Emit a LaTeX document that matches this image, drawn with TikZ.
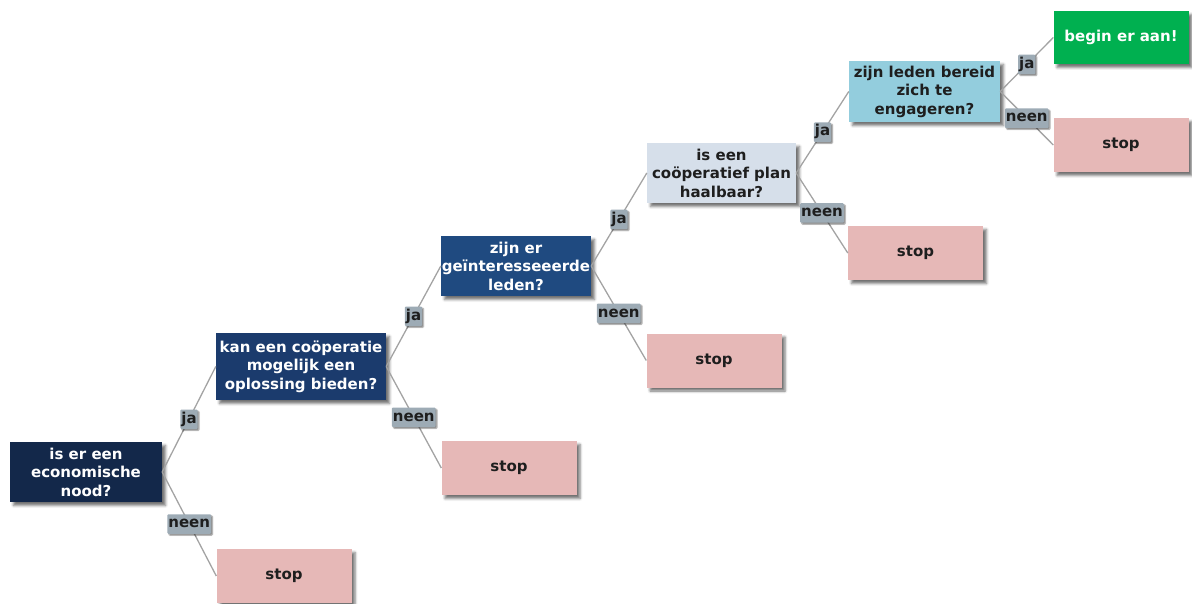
\documentclass[tikz,border=0pt]{standalone}
\usepackage{fontspec}
\setmainfont{DejaVu Sans}
\usetikzlibrary{shadows.blur}

\definecolor{qnavy}{HTML}{13284A}
\definecolor{qblue}{HTML}{1B3B6D}
\definecolor{qmid}{HTML}{1F4A80}
\definecolor{qpale}{HTML}{D6DFEA}
\definecolor{qsky}{HTML}{93CDDD}
\definecolor{gogreen}{HTML}{00B050}
\definecolor{stopc}{HTML}{E6B8B7}
\definecolor{labc}{HTML}{9DABB5}
\definecolor{linec}{HTML}{A3A3A3}
\definecolor{inkc}{HTML}{1E1E1E}

\tikzset{
  base/.style={rectangle, inner sep=0pt, align=center,
    font=\bfseries\fontsize{15}{18.5}\selectfont,
    blur shadow={shadow xshift=3.5pt, shadow yshift=-3.5pt,
      shadow blur radius=2.5pt, shadow opacity=55}},
  question/.style={base, fill=#1, text=white},
  lightq/.style={base, fill=#1, text=inkc},
  stopbox/.style={base, fill=stopc, text=inkc,
    minimum width=135pt, minimum height=54pt},
  answer/.style={rectangle, fill=labc, rounded corners=1pt,
    inner xsep=1pt, inner ysep=3pt, text height=10.5pt, text depth=3pt,
    font=\bfseries\fontsize{15}{16}\selectfont, text=inkc,
    blur shadow={shadow xshift=1.5pt, shadow yshift=-1.5pt,
      shadow blur radius=1pt, shadow opacity=45}},
  link/.style={draw=linec, line width=1.3pt}
}

\begin{document}
\begin{tikzpicture}[x=1pt, y=-1pt]
\useasboundingbox (0,0) rectangle (1192,604);

% questions
\node[question=qnavy, minimum width=152pt, minimum height=60pt] (q1) at (86,472)
  {is er een\\economische\\nood?};
\node[question=qblue, minimum width=170pt, minimum height=67pt] (q2) at (301,366.5)
  {kan een coöperatie\\mogelijk een\\oplossing bieden?};
\node[question=qmid, minimum width=150pt, minimum height=60pt] (q3) at (516,266)
  {zijn er\\geïnteresseeerde\\leden?};
\node[lightq=qpale, minimum width=149pt, minimum height=60pt] (q4) at (721.5,173)
  {is een\\coöperatief plan\\haalbaar?};
\node[lightq=qsky, minimum width=151pt, minimum height=61pt] (q5) at (924.5,91.5)
  {zijn leden bereid\\zich te\\engageren?};

% outcomes
\node[stopbox] (s1) at (284,576) {stop};
\node[stopbox] (s2) at (509,468) {stop};
\node[stopbox] (s3) at (714,360.5) {stop};
\node[stopbox] (s4) at (915.5,253) {stop};
\node[stopbox] (s5) at (1121,145) {stop};
\node[question=gogreen, minimum width=135pt, minimum height=53pt] (go) at (1121,37.5)
  {begin er aan!};

% branches
\draw[link] (q1.east) -- node[answer] {ja} (q2.west);
\draw[link] (q1.east) -- node[answer] {neen} (s1.west);
\draw[link] (q2.east) -- node[answer] {ja} (q3.west);
\draw[link] (q2.east) -- node[answer] {neen} (s2.west);
\draw[link] (q3.east) -- node[answer] {ja} (q4.west);
\draw[link] (q3.east) -- node[answer] {neen} (s3.west);
\draw[link] (q4.east) -- node[answer] {ja} (q5.west);
\draw[link] (q4.east) -- node[answer] {neen} (s4.west);
\draw[link] (q5.east) -- node[answer] {ja} (go.west);
\draw[link] (q5.east) -- node[answer] {neen} (s5.west);
\end{tikzpicture}
\end{document}
